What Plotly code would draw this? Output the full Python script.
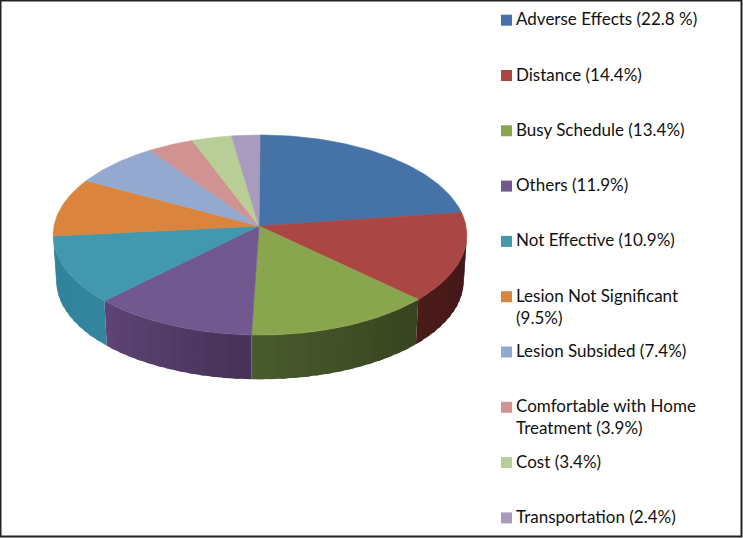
import math
import plotly.graph_objects as go

# ---- data ----
categories = ["Adverse Effects", "Distance", "Busy Schedule", "Others", "Not Effective",
              "Lesion Not Significant", "Lesion Subsided", "Comfortable with Home Treatment",
              "Cost", "Transportation"]
values = [22.8, 14.4, 13.4, 11.9, 10.9, 9.5, 7.4, 3.9, 3.4, 2.4]
legend_lines = [["Adverse Effects (22.8 %)"], ["Distance (14.4%)"], ["Busy Schedule (13.4%)"],
                ["Others (11.9%)"], ["Not Effective (10.9%)"],
                ["Lesion Not Significant", "(9.5%)"], ["Lesion Subsided (7.4%)"],
                ["Comfortable with Home", "Treatment (3.9%)"], ["Cost (3.4%)"],
                ["Transportation (2.4%)"]]

# ---- style ----
top_colors = ["#4573A7", "#AA4643", "#89A54E", "#71588F", "#4198AF",
              "#DB843D", "#93A9CF", "#D19392", "#B9CD96", "#A99BBD"]
side_left = {1: "#4A1B17", 2: "#4A5B2E", 3: "#5F4476", 4: "#2F8299"}
side_right = {1: "#42161A", 2: "#37431F", 3: "#453258", 4: "#33869E"}

# ---- projection of the tilted disc onto the page ----
CX, CY, RX, RY, K, DEPTH, SHRINK = 260.0, 226.0, 206.0, 99.2, 0.09, 46.0, 0.985


def top_pt(a):
    u, v = math.sin(a), math.cos(a)
    w = 1 + K * v
    return CX + RX * u / w, CY - RY * v / w


def bot_pt(a):
    x, y = top_pt(a)
    return CX + SHRINK * (x - CX), CY + DEPTH + SHRINK * (y - CY)


def hex_mix(c1, c2, t):
    a = [int(c1[i:i + 2], 16) for i in (1, 3, 5)]
    b = [int(c2[i:i + 2], 16) for i in (1, 3, 5)]
    return "rgb(%d,%d,%d)" % tuple(round(p + (q - p) * t) for p, q in zip(a, b))


def poly(xs, ys, color, lw=0.6):
    line = dict(color=color, width=lw) if lw else dict(width=0)
    return go.Scatter(x=xs, y=ys, mode="lines", fill="toself", fillcolor=color,
                      line=line, hoverinfo="skip", showlegend=False)


total = sum(values)
edges = [0.0]
for val in values:
    edges.append(edges[-1] + val / total * 2 * math.pi)

fig = go.Figure()

# side wall: overlapping strips on the visible front of the disc, so no seams show
vis_lo = math.radians(94)
overlap = math.radians(1.5)
for i in side_left:
    lo, hi = max(edges[i], vis_lo), edges[i + 1]
    n = max(2, int(math.degrees(hi - lo) / 3))
    for j in range(n):
        a0 = lo + (hi - lo) * j / n
        a1 = min(hi, lo + (hi - lo) * (j + 1) / n + overlap)
        t = (j + 0.5) / n
        # strips run clockwise, i.e. right to left on the front of the disc
        col = hex_mix(side_right[i], side_left[i], t)
        p = [top_pt(a0), top_pt(a1), bot_pt(a1), bot_pt(a0)]
        fig.add_trace(poly([q[0] for q in p] + [p[0][0]], [q[1] for q in p] + [p[0][1]], col, lw=0))

# top face
for i in range(len(values)):
    n = max(4, int(math.degrees(edges[i + 1] - edges[i])))
    arc = [top_pt(edges[i] + (edges[i + 1] - edges[i]) * j / n) for j in range(n + 1)]
    xs = [CX - 1] + [q[0] for q in arc] + [CX - 1]
    ys = [CY] + [q[1] for q in arc] + [CY]
    fig.add_trace(poly(xs, ys, top_colors[i]))

# legend
LEG_Y0, LEG_STEP, LINE_H, SW_X, TXT_X = 18.7, 55.3, 22.0, 506.5, 514
annotations = []
sx, sy = [], []
for i, lines in enumerate(legend_lines):
    y = LEG_Y0 + LEG_STEP * i
    sx.append(SW_X)
    sy.append(y + 1.5)
    for k, line in enumerate(lines):
        annotations.append(dict(x=TXT_X, y=y + LINE_H * k, text=line, xref="x", yref="y",
                                xanchor="left", yanchor="middle", showarrow=False,
                                font=dict(family="Lato", size=17, color="#111111")))
fig.add_trace(go.Scatter(x=sx, y=sy, mode="markers", hoverinfo="skip", showlegend=False,
                         marker=dict(symbol="square", size=11, color=top_colors,
                                     line=dict(width=0))))

fig.update_layout(
    width=743, height=538, margin=dict(l=0, r=0, t=0, b=0),
    paper_bgcolor="white", plot_bgcolor="white", showlegend=False,
    xaxis=dict(range=[0, 743], visible=False, fixedrange=True),
    yaxis=dict(range=[538, 0], visible=False, fixedrange=True),
    annotations=annotations,
    shapes=[dict(type="rect", xref="x", yref="y", x0=0.5, y0=0.5, x1=741.5, y1=536.5,
                 line=dict(color="#222222", width=2), fillcolor="rgba(0,0,0,0)")],
)

fig.write_html("out.html", config={"displayModeBar": False},
               post_script="document.body.style.margin='0';document.body.style.overflow='hidden';")
